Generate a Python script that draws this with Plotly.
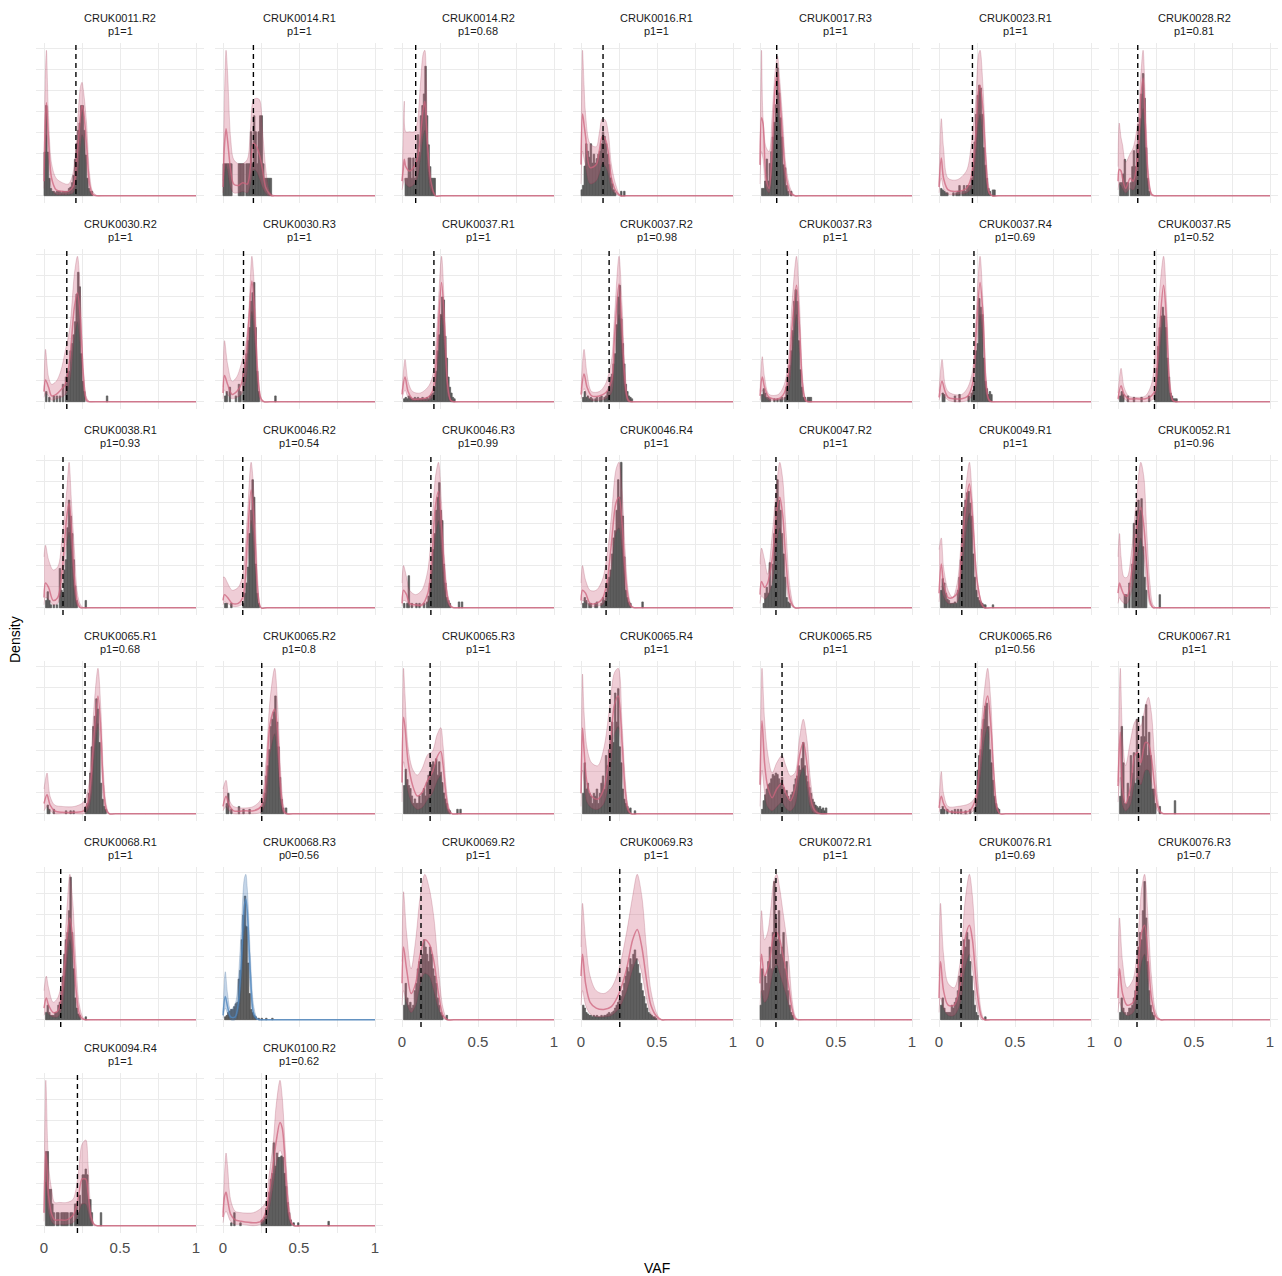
import plotly.graph_objects as go

# ---------------- data ----------------
SAMPLES = ["CRUK0011.R2", "CRUK0014.R1", "CRUK0014.R2", "CRUK0016.R1", "CRUK0017.R3", "CRUK0023.R1", "CRUK0028.R2",
           "CRUK0030.R2", "CRUK0030.R3", "CRUK0037.R1", "CRUK0037.R2", "CRUK0037.R3", "CRUK0037.R4", "CRUK0037.R5",
           "CRUK0038.R1", "CRUK0046.R2", "CRUK0046.R3", "CRUK0046.R4", "CRUK0047.R2", "CRUK0049.R1", "CRUK0052.R1",
           "CRUK0065.R1", "CRUK0065.R2", "CRUK0065.R3", "CRUK0065.R4", "CRUK0065.R5", "CRUK0065.R6", "CRUK0067.R1",
           "CRUK0068.R1", "CRUK0068.R3", "CRUK0069.R2", "CRUK0069.R3", "CRUK0072.R1", "CRUK0076.R1", "CRUK0076.R3",
           "CRUK0094.R4", "CRUK0100.R2"]

LABELS = ["p1=1", "p1=1", "p1=0.68", "p1=1", "p1=1", "p1=1", "p1=0.81",
          "p1=1", "p1=1", "p1=1", "p1=0.98", "p1=1", "p1=0.69", "p1=0.52",
          "p1=0.93", "p1=0.54", "p1=0.99", "p1=1", "p1=1", "p1=1", "p1=0.96",
          "p1=0.68", "p1=0.8", "p1=1", "p1=1", "p1=1", "p1=0.56", "p1=1",
          "p1=1", "p0=0.56", "p1=1", "p1=1", "p1=1", "p1=0.69", "p1=0.7",
          "p1=1", "p1=0.62"]

# dashed cut-off line (None = no line)
CUTOFF = [0.21, 0.2, 0.09, 0.145, 0.11, 0.22, 0.13,
          0.15, 0.135, 0.21, 0.185, 0.18, 0.23, 0.24,
          0.125, 0.13, 0.19, 0.165, 0.105, 0.15, 0.12,
          0.27, 0.255, 0.185, 0.19, 0.145, 0.24, 0.135,
          0.11, None, 0.125, 0.255, 0.105, 0.145, 0.125,
          0.22, 0.285]

# VAF positions where the fitted density is read
KNOTS = [
    [0, .008, .016, .028, .05, .08, .12, .16, .19, .22, .24, .25, .26, .28, .30, .32, .35],
    [0, .01, .02, .03, .05, .07, .1, .13, .16, .18, .2, .22, .24, .26, .28, .3, .32, .35],
    [0, .008, .015, .025, .05, .08, .1, .12, .14, .15, .16, .17, .19, .22],
    [0, .01, .02, .03, .06, .1, .12, .14, .16, .18, .2, .23, .26],
    [0, .01, .02, .04, .06, .08, .1, .115, .13, .15, .17, .2, .23],
    [0, .015, .03, .06, .12, .18, .21, .24, .26, .27, .29, .31, .33, .35],
    [0, .008, .02, .03, .05, .08, .1, .13, .15, .165, .18, .2, .22, .24],
    [0, .01, .03, .05, .08, .11, .14, .17, .2, .22, .24, .26, .28, .3],
    [0, .01, .03, .06, .09, .12, .15, .17, .19, .21, .23, .25, .27],
    [0, .02, .04, .07, .12, .17, .2, .23, .26, .28, .3, .32, .34],
    [0, .02, .04, .07, .12, .16, .2, .22, .25, .27, .29, .31, .33],
    [0, .015, .03, .06, .12, .16, .19, .21, .24, .26, .28, .3, .32],
    [0, .02, .04, .06, .1, .15, .19, .22, .24, .27, .29, .31, .33, .35],
    [0, .02, .04, .07, .12, .18, .22, .24, .27, .3, .32, .34, .36, .38],
    [0, .01, .03, .06, .09, .12, .15, .165, .18, .2, .22, .24, .26],
    [0, .01, .03, .06, .1, .13, .16, .185, .21, .23, .25],
    [0, .01, .03, .05, .09, .13, .17, .2, .22, .24, .26, .28, .3, .32, .34],
    [0, .01, .03, .06, .1, .14, .17, .2, .23, .25, .27, .29, .31, .33, .35],
    [0, .01, .03, .05, .08, .11, .13, .15, .17, .2, .23],
    [0, .015, .03, .06, .09, .12, .15, .18, .2, .22, .25, .28, .3],
    [0, .01, .02, .04, .06, .09, .12, .15, .17, .19, .21, .23, .25],
    [0, .02, .04, .07, .12, .2, .26, .29, .31, .33, .355, .375, .39, .41, .43],
    [0, .02, .04, .07, .15, .2, .25, .28, .31, .34, .36, .38, .40, .42],
    [0, .01, .02, .04, .07, .1, .13, .17, .2, .23, .255, .27, .29, .31, .33],
    [0, .01, .02, .04, .07, .11, .15, .19, .22, .245, .27, .29, .31, .33],
    [0, .013, .03, .05, .08, .11, .145, .17, .2, .23, .26, .285, .31, .33, .35, .37, .4],
    [0, .015, .03, .06, .12, .2, .24, .27, .3, .32, .34, .36, .38, .4],
    [0, .015, .03, .05, .08, .11, .13, .15, .18, .2, .22, .24, .26, .28, .3],
    [0, .015, .03, .06, .09, .12, .15, .17, .19, .21, .23, .25, .27],
    [0, .015, .03, .05, .08, .1, .12, .14, .15, .16, .18, .2, .22, .24],
    [0, .01, .03, .06, .09, .12, .15, .18, .21, .24, .27, .3],
    [0, .01, .03, .06, .1, .15, .2, .25, .3, .34, .37, .4, .43, .46, .5, .53],
    [0, .01, .03, .05, .07, .09, .11, .13, .15, .17, .19, .21, .23, .25],
    [0, .01, .03, .06, .1, .14, .17, .2, .22, .25, .28, .3],
    [0, .01, .03, .06, .1, .13, .155, .175, .2, .22, .25, .28],
    [0, .012, .03, .05, .07, .1, .15, .19, .21, .23, .25, .275, .29, .31, .33, .35],
    [0, .01, .02, .03, .05, .08, .12, .2, .25, .28, .3, .33, .35, .375, .39, .41, .43, .45, .47],
]

# upper edge of the credible band
UPPER = [
    [15, 80, 100, 60, 22, 12, 9, 8, 15, 50, 75, 78, 72, 50, 15, 3, 0],
    [10, 70, 100, 85, 40, 25, 22, 22, 25, 45, 66, 67, 66, 45, 20, 5, 1, 0],
    [10, 40, 65, 44, 44, 44, 50, 75, 98, 100, 80, 35, 7, 0],
    [21, 98, 75, 55, 35, 33, 42, 52, 51, 42, 21, 7, 0],
    [21, 99, 53, 33, 30, 55, 85, 95, 79, 51, 21, 5, 0],
    [7, 53, 33, 12, 11, 17, 33, 63, 97, 100, 74, 28, 5, 0],
    [20, 50, 40, 35, 23, 29, 33, 51, 83, 100, 65, 17, 2, 0],
    [7, 36, 17, 12, 14, 21, 35, 51, 88, 100, 74, 21, 3, 0],
    [10, 42, 26, 14, 17, 26, 40, 63, 100, 72, 21, 3, 0],
    [7, 29, 14, 7, 6, 10, 17, 51, 100, 63, 17, 2, 0],
    [9, 36, 19, 7, 7, 12, 28, 58, 100, 67, 21, 3, 0],
    [7, 31, 17, 5, 5, 12, 33, 67, 100, 67, 17, 2, 0],
    [7, 29, 12, 7, 5, 5, 10, 21, 51, 100, 67, 17, 2, 0],
    [6, 23, 10, 4, 3, 4, 12, 28, 72, 100, 67, 17, 2, 0],
    [35, 43, 33, 26, 28, 49, 81, 100, 74, 40, 10, 2, 0],
    [21, 21, 17, 12, 14, 23, 63, 100, 67, 17, 0],
    [17, 29, 21, 12, 9, 12, 26, 63, 90, 100, 72, 33, 10, 2, 0],
    [17, 29, 19, 12, 12, 19, 35, 63, 95, 100, 81, 40, 12, 2, 0],
    [30, 41, 33, 23, 50, 85, 100, 88, 55, 12, 0],
    [40, 48, 28, 12, 7, 17, 51, 86, 100, 74, 21, 4, 0],
    [35, 51, 35, 21, 21, 40, 74, 100, 90, 51, 17, 2, 0],
    [17, 28, 12, 6, 5, 5, 8, 17, 40, 75, 100, 70, 30, 6, 0],
    [17, 23, 10, 5, 4, 5, 10, 33, 79, 100, 74, 28, 5, 0],
    [21, 98, 80, 45, 30, 26, 30, 40, 42, 53, 58, 46, 19, 4, 0],
    [14, 96, 70, 45, 35, 33, 45, 75, 97, 100, 62, 25, 5, 0],
    [20, 100, 65, 42, 28, 35, 40, 33, 26, 28, 52, 65, 50, 25, 10, 3, 0],
    [7, 29, 14, 5, 5, 7, 12, 51, 86, 100, 79, 33, 7, 0],
    [22, 100, 53, 33, 49, 63, 65, 60, 74, 80, 69, 40, 12, 2, 0],
    [20, 30, 22, 12, 15, 30, 75, 100, 80, 40, 12, 3, 0],
    [5, 33, 18, 7, 11, 28, 62, 97, 100, 90, 44, 11, 2, 0],
    [40, 88, 60, 35, 55, 85, 100, 90, 70, 35, 8, 0],
    [50, 80, 55, 30, 20, 18, 22, 35, 60, 85, 100, 85, 50, 20, 4, 0],
    [40, 75, 55, 60, 75, 95, 100, 90, 75, 60, 40, 15, 3, 0],
    [30, 80, 45, 25, 22, 40, 80, 100, 85, 35, 5, 0],
    [30, 70, 40, 22, 28, 55, 90, 100, 65, 30, 5, 0],
    [9, 100, 42, 25, 16, 16, 16, 18, 25, 40, 56, 59, 42, 9, 1, 0],
    [9, 36, 50, 41, 18, 10, 9, 9, 12, 16, 32, 57, 83, 100, 88, 53, 20, 4, 0],
]

# posterior mean density
MEAN = [
    [10, 50, 64, 42, 12, 4, 3, 3, 6, 30, 55, 62, 58, 35, 8, 1, 0],
    [6, 35, 46, 38, 18, 8, 7, 9, 8, 20, 36, 34, 28, 18, 6, 2, 0, 0],
    [10, 18, 25, 20, 17, 20, 25, 40, 60, 65, 50, 33, 10, 0],
    [21, 55, 48, 40, 19, 21, 30, 40, 38, 29, 12, 3, 0],
    [21, 53, 49, 12, 5, 33, 74, 84, 68, 38, 14, 2, 0],
    [6, 26, 12, 4, 3, 5, 12, 40, 72, 76, 58, 21, 2, 0],
    [10, 18, 17, 12, 5, 12, 10, 28, 67, 81, 49, 12, 1, 0],
    [7, 15, 10, 4, 5, 8, 12, 30, 65, 75, 56, 17, 1, 0],
    [6, 18, 12, 5, 7, 12, 30, 55, 83, 58, 17, 2, 0],
    [5, 17, 7, 2, 2, 3, 7, 35, 82, 53, 12, 1, 0],
    [5, 19, 10, 4, 4, 6, 14, 44, 81, 49, 14, 1, 0],
    [4, 17, 10, 3, 2, 6, 22, 50, 80, 51, 12, 1, 0],
    [3, 14, 7, 3, 2, 2, 4, 12, 40, 82, 58, 12, 1, 0],
    [2, 11, 5, 2, 2, 2, 4, 7, 46, 80, 53, 12, 1, 0],
    [7, 17, 14, 5, 7, 26, 63, 72, 56, 21, 4, 0, 0],
    [5, 9, 7, 3, 3, 7, 46, 81, 49, 10, 0],
    [3, 12, 9, 3, 2, 2, 10, 40, 70, 80, 55, 25, 7, 1, 0],
    [5, 12, 10, 3, 3, 6, 17, 44, 72, 76, 58, 26, 7, 1, 0],
    [9, 18, 14, 17, 33, 67, 76, 63, 33, 5, 0],
    [10, 30, 17, 7, 7, 10, 40, 74, 85, 63, 19, 3, 0],
    [10, 17, 14, 9, 8, 25, 52, 69, 56, 28, 5, 0, 0],
    [7, 13, 6, 2, 1, 1, 2, 8, 25, 55, 81, 55, 20, 3, 0],
    [5, 12, 6, 2, 2, 2, 5, 20, 62, 72, 55, 17, 2, 0],
    [21, 65, 58, 35, 19, 12, 14, 23, 28, 38, 42, 33, 12, 2, 0],
    [14, 59, 44, 21, 12, 10, 17, 44, 75, 81, 49, 17, 3, 0],
    [20, 64, 35, 19, 11, 17, 21, 14, 9, 17, 40, 49, 33, 13, 4, 1, 0],
    [4, 12, 7, 2, 1, 2, 10, 40, 72, 81, 62, 28, 5, 0],
    [19, 56, 17, 7, 17, 40, 42, 35, 49, 48, 38, 20, 6, 1, 0],
    [8, 15, 10, 5, 6, 20, 55, 70, 55, 22, 5, 1, 0],
    [3, 16, 9, 2, 2, 11, 39, 78, 83, 74, 32, 5, 1, 0],
    [25, 50, 35, 18, 25, 45, 55, 52, 40, 18, 3, 0],
    [30, 45, 25, 12, 8, 7, 9, 18, 35, 55, 62, 50, 28, 10, 2, 0],
    [25, 45, 30, 35, 45, 58, 60, 55, 45, 35, 22, 8, 1, 0],
    [15, 40, 20, 10, 10, 25, 55, 65, 55, 20, 2, 0],
    [15, 35, 18, 10, 12, 35, 60, 65, 40, 15, 2, 0],
    [9, 51, 21, 8, 4, 4, 4, 7, 12, 22, 32, 32, 22, 6, 1, 0],
    [6, 20, 23, 18, 8, 4, 3, 2, 3, 9, 20, 42, 58, 71, 67, 41, 13, 2, 0],
]

# lower edge of the credible band
LOWER = [
    [5, 30, 42, 25, 5, 1, 1, 1, 2, 15, 35, 42, 40, 20, 3, 0, 0],
    [2, 15, 22, 18, 6, 2, 2, 3, 2, 8, 18, 17, 12, 6, 2, 0, 0, 0],
    [4, 8, 12, 8, 6, 8, 12, 25, 42, 45, 35, 18, 4, 0],
    [8, 30, 25, 20, 8, 10, 15, 22, 20, 15, 5, 1, 0],
    [8, 30, 25, 5, 2, 18, 50, 60, 48, 22, 6, 0, 0],
    [2, 12, 5, 1, 1, 2, 5, 25, 52, 56, 40, 10, 1, 0],
    [4, 8, 7, 5, 2, 5, 4, 15, 48, 60, 30, 5, 0, 0],
    [3, 6, 4, 1, 2, 3, 5, 15, 45, 55, 38, 8, 0, 0],
    [2, 8, 5, 2, 3, 5, 15, 38, 62, 40, 8, 0, 0],
    [2, 8, 3, 1, 1, 1, 3, 20, 60, 35, 5, 0, 0],
    [2, 9, 4, 1, 1, 2, 6, 28, 60, 32, 6, 0, 0],
    [1, 8, 4, 1, 1, 2, 10, 32, 60, 33, 5, 0, 0],
    [1, 6, 3, 1, 0, 0, 1, 5, 25, 60, 40, 5, 0, 0],
    [1, 5, 2, 0, 0, 0, 1, 3, 30, 60, 35, 5, 0, 0],
    [2, 7, 6, 2, 3, 15, 45, 52, 38, 10, 1, 0, 0],
    [2, 4, 3, 1, 1, 3, 30, 60, 30, 4, 0],
    [1, 5, 4, 1, 1, 1, 4, 25, 50, 60, 38, 12, 3, 0, 0],
    [2, 5, 4, 1, 1, 2, 8, 28, 52, 55, 40, 14, 3, 0, 0],
    [3, 8, 6, 8, 18, 45, 55, 42, 18, 2, 0],
    [4, 15, 8, 3, 3, 4, 25, 55, 65, 45, 10, 1, 0],
    [3, 7, 5, 3, 3, 12, 32, 48, 36, 14, 2, 0, 0],
    [2, 5, 2, 0, 0, 0, 0, 3, 12, 40, 62, 40, 10, 1, 0],
    [2, 5, 2, 0, 0, 0, 1, 8, 42, 55, 38, 8, 0, 0],
    [8, 35, 30, 15, 6, 3, 4, 10, 14, 22, 26, 18, 5, 0, 0],
    [5, 30, 22, 8, 4, 3, 7, 28, 55, 60, 30, 7, 1, 0],
    [5, 30, 15, 5, 2, 5, 8, 4, 2, 6, 25, 32, 18, 5, 1, 0, 0],
    [1, 5, 3, 1, 0, 0, 4, 25, 52, 60, 42, 14, 2, 0],
    [8, 25, 6, 2, 6, 22, 25, 20, 30, 30, 22, 10, 2, 0, 0],
    [3, 6, 4, 2, 2, 10, 40, 55, 40, 12, 2, 0, 0],
    [1, 8, 4, 0, 0, 5, 25, 60, 65, 55, 20, 2, 0, 0],
    [10, 20, 12, 5, 10, 25, 32, 30, 20, 8, 1, 0],
    [10, 20, 10, 4, 2, 2, 3, 8, 20, 35, 42, 32, 15, 4, 0, 0],
    [10, 20, 12, 15, 25, 35, 38, 32, 25, 18, 10, 3, 0, 0],
    [5, 15, 8, 3, 3, 12, 35, 45, 35, 8, 0, 0],
    [5, 12, 6, 3, 5, 20, 40, 45, 25, 6, 0, 0],
    [3, 30, 10, 3, 1, 1, 1, 2, 5, 10, 15, 15, 10, 2, 0, 0],
    [2, 8, 10, 8, 3, 1, 1, 0, 1, 4, 10, 28, 42, 52, 48, 28, 6, 1, 0],
]

# histogram heights, bins of 0.01 starting at VAF 0
HIST = [
    [30, 62, 30, 12, 5, 3, 3, 2, 3, 3, 3, 2, 3, 3, 3, 3, 5, 6, 9, 14, 25, 36, 45, 50, 62, 62, 45, 28, 12, 5, 3, 3],
    [22, 22, 22, 22, 22, 22, 0, 0, 0, 0, 22, 22, 22, 22, 0, 22, 22, 22, 44, 22, 55, 44, 22, 44, 55, 55, 22, 12, 12, 12, 12, 12],
    [0, 0, 12, 12, 26, 26, 12, 26, 12, 26, 42, 30, 55, 62, 70, 89, 55, 35, 20, 12, 12, 12],
    [4, 7, 20, 35, 30, 26, 35, 22, 28, 22, 25, 28, 30, 35, 43, 40, 35, 28, 21, 12, 8, 4, 2, 0, 0, 0, 3, 0, 3],
    [0, 5, 5, 10, 25, 10, 22, 30, 40, 50, 62, 87, 70, 53, 40, 21, 19, 7, 3, 0, 3],
    [0, 5, 4, 3, 2, 2, 0, 0, 0, 2, 0, 2, 3, 7, 0, 3, 7, 3, 7, 7, 7, 12, 21, 37, 56, 69, 76, 74, 56, 33, 21, 12, 5, 3, 0, 4, 4],
    [0, 9, 9, 15, 25, 9, 9, 0, 9, 20, 31, 20, 35, 49, 53, 70, 84, 67, 33, 12, 3],
    [0, 7, 0, 3, 0, 0, 4, 0, 4, 0, 4, 0, 12, 0, 17, 21, 21, 35, 40, 46, 55, 74, 89, 79, 33, 14, 7, 0, 0, 0, 0, 0, 0, 0, 0, 0, 0, 0, 0, 0, 0, 4],
    [0, 4, 7, 0, 10, 0, 0, 0, 4, 0, 12, 7, 0, 21, 27, 33, 42, 51, 69, 75, 82, 51, 21, 7, 0, 0, 0, 0, 0, 0, 0, 0, 0, 0, 4],
    [0, 2, 3, 2, 4, 3, 2, 2, 3, 2, 3, 2, 2, 3, 2, 2, 3, 2, 4, 5, 6, 10, 21, 35, 46, 60, 72, 70, 45, 30, 17, 10, 6, 3, 2],
    [0, 3, 7, 3, 4, 2, 3, 2, 0, 2, 3, 0, 3, 4, 0, 3, 4, 7, 10, 17, 19, 26, 33, 53, 72, 80, 57, 40, 26, 12, 7, 4, 3, 2],
    [0, 5, 9, 6, 3, 3, 2, 0, 0, 2, 0, 2, 0, 2, 3, 0, 3, 10, 18, 25, 35, 49, 69, 77, 69, 42, 22, 10, 3, 3, 0, 3, 3, 3],
    [0, 0, 6, 5, 0, 0, 0, 0, 0, 0, 4, 0, 0, 5, 0, 0, 0, 0, 0, 4, 0, 6, 8, 14, 35, 40, 71, 65, 60, 30, 14, 9, 5, 7, 5],
    [0, 4, 7, 5, 0, 0, 4, 0, 0, 0, 3, 0, 0, 0, 0, 3, 0, 0, 0, 0, 4, 0, 0, 0, 7, 23, 38, 51, 59, 65, 59, 51, 30, 17, 6, 4, 2, 2, 2],
    [0, 5, 11, 5, 2, 0, 2, 0, 2, 0, 27, 12, 8, 26, 33, 55, 74, 63, 51, 33, 15, 5, 0, 0, 0, 0, 0, 5],
    [0, 3, 3, 0, 0, 3, 0, 0, 0, 0, 0, 0, 0, 3, 10, 17, 28, 51, 67, 88, 76, 30, 10, 3],
    [0, 3, 0, 3, 22, 0, 3, 0, 0, 3, 0, 3, 0, 0, 3, 0, 4, 8, 17, 26, 40, 51, 67, 76, 86, 67, 60, 30, 17, 7, 5, 3, 0, 0, 0, 0, 0, 4, 0, 4],
    [0, 3, 7, 5, 0, 3, 3, 0, 0, 3, 4, 0, 0, 3, 7, 5, 8, 17, 21, 26, 37, 48, 53, 67, 88, 76, 100, 63, 35, 12, 7, 4, 3, 0, 0, 0, 0, 0, 0, 0, 4],
    [0, 0, 3, 10, 14, 10, 31, 15, 30, 51, 70, 88, 74, 67, 51, 37, 21, 7, 4, 3],
    [0, 12, 20, 17, 10, 6, 5, 3, 3, 3, 4, 3, 12, 21, 33, 51, 69, 74, 79, 80, 72, 63, 37, 21, 12, 7, 5, 4, 3, 2, 2, 0, 0, 0, 0, 2],
    [0, 0, 0, 0, 9, 9, 0, 17, 0, 30, 58, 44, 67, 74, 67, 75, 42, 21, 12, 0, 0, 0, 0, 0, 0, 0, 0, 9],
    [0, 0, 6, 3, 0, 0, 3, 0, 0, 0, 0, 0, 0, 0, 2, 0, 0, 2, 0, 2, 0, 0, 0, 0, 0, 0, 0, 5, 7, 14, 28, 46, 60, 67, 79, 72, 49, 21, 10, 5, 3],
    [0, 0, 7, 14, 0, 3, 0, 0, 0, 0, 5, 0, 0, 3, 0, 0, 0, 3, 0, 0, 0, 0, 0, 0, 0, 5, 8, 14, 26, 33, 44, 60, 65, 70, 81, 63, 46, 25, 10, 4, 0, 4],
    [0, 19, 30, 23, 19, 17, 12, 7, 10, 7, 7, 12, 7, 14, 17, 12, 21, 26, 28, 33, 35, 33, 37, 26, 35, 28, 21, 14, 10, 7, 3, 2, 0, 0, 0, 0, 3, 0, 3],
    [0, 14, 35, 17, 21, 14, 12, 7, 14, 12, 17, 7, 14, 21, 26, 17, 40, 33, 44, 53, 63, 49, 83, 63, 86, 46, 35, 17, 10, 7, 5, 3, 4, 0, 0, 2],
    [0, 3, 9, 13, 17, 20, 21, 24, 27, 26, 28, 27, 24, 21, 25, 18, 14, 16, 12, 10, 13, 15, 20, 24, 26, 33, 30, 38, 49, 33, 26, 22, 18, 14, 10, 8, 6, 5, 4, 5, 3, 4, 2, 4],
    [0, 3, 5, 3, 0, 3, 0, 0, 2, 0, 3, 0, 3, 0, 3, 0, 0, 2, 0, 0, 3, 0, 0, 4, 10, 30, 40, 44, 58, 65, 74, 76, 60, 44, 35, 23, 12, 7, 4, 3],
    [0, 12, 60, 35, 7, 7, 21, 12, 40, 28, 42, 21, 65, 40, 33, 53, 67, 53, 75, 40, 56, 40, 17, 17, 7, 0, 0, 5, 0, 0, 0, 0, 0, 0, 0, 0, 0, 9],
    [0, 5, 10, 5, 3, 3, 3, 5, 5, 10, 12, 20, 30, 45, 55, 60, 75, 98, 60, 35, 15, 8, 4, 3, 0, 0, 0, 2],
    [0, 2, 3, 5, 6, 7, 7, 9, 11, 12, 28, 34, 55, 72, 85, 64, 39, 18, 7, 5, 3, 2, 0, 1, 0, 1, 0, 0, 1, 0, 0, 0, 1],
    [0, 10, 25, 15, 10, 12, 8, 10, 20, 25, 35, 40, 30, 45, 55, 50, 45, 40, 50, 45, 35, 30, 25, 15, 10, 5, 3, 0, 0, 3],
    [0, 10, 8, 5, 4, 3, 3, 2, 3, 2, 3, 2, 2, 3, 2, 3, 3, 4, 5, 4, 5, 6, 8, 10, 12, 14, 16, 20, 25, 30, 36, 33, 42, 38, 45, 48, 42, 38, 32, 25, 20, 16, 11, 8, 5, 4, 3, 2, 2, 1],
    [10, 35, 20, 30, 25, 40, 50, 35, 60, 95, 70, 55, 75, 45, 50, 60, 35, 40, 20, 10, 5, 3],
    [0, 10, 15, 8, 5, 5, 5, 5, 10, 8, 12, 15, 20, 30, 35, 45, 55, 50, 60, 55, 40, 30, 20, 10, 5, 3, 0, 0, 0, 0, 2],
    [0, 5, 15, 8, 5, 3, 5, 8, 8, 10, 15, 20, 30, 50, 60, 55, 75, 95, 70, 40, 20, 10, 5, 3],
    [0, 51, 51, 25, 25, 15, 9, 0, 9, 9, 0, 9, 9, 9, 9, 9, 0, 9, 9, 0, 15, 15, 9, 21, 15, 35, 35, 39, 35, 18, 18, 9, 0, 0, 0, 0, 0, 9],
    [0, 0, 0, 0, 0, 2, 0, 9, 0, 0, 0, 2, 0, 0, 0, 0, 0, 0, 0, 0, 0, 0, 0, 0, 0, 4, 4, 6, 12, 17,
     23, 32, 36, 57, 41, 50, 47, 47, 48, 47, 36, 27, 16, 9, 4, 0, 2, 0, 0, 2,
     0, 0, 0, 0, 0, 0, 0, 0, 0, 0, 0, 0, 0, 0, 0, 0, 0, 0, 0, 3],
]

X_TICKS = [0, 0.5, 1]
X_TICK_TEXT = ["0", "0.5", "1"]

# ---------------- styling / layout ----------------
W, H = 1282, 1276
NCOL = 7
BIN = 0.01
VAF_END = 1.0
TAIL_PAD = 0.04
FONT = "Liberation Sans, Arial, Helvetica, sans-serif"
GRID = "#ebebeb"
BAR = "#595959"
PAL = {
    "p1": dict(fill="rgba(205,100,128,0.32)", line="rgba(205,100,125,0.75)", edge="rgba(150,45,70,0.30)"),
    "p0": dict(fill="rgba(70,125,185,0.32)", line="rgba(80,135,190,0.80)", edge="rgba(40,85,140,0.30)"),
}

fig = go.Figure()
annotations = []
shapes = []
layout = {}
n = len(SAMPLES)
for i in range(n):
    r, c = divmod(i, NCOL)
    sfx = "" if i == 0 else str(i + 1)
    xa, ya = "x" + sfx, "y" + sfx
    grp = LABELS[i].split("=")[0]
    pal = PAL[grp]
    kx, up, mu, lo, hist = KNOTS[i], UPPER[i], MEAN[i], LOWER[i], HIST[i]
    assert len(kx) == len(up) == len(mu) == len(lo), SAMPLES[i]
    tail_x = [kx[-1] + TAIL_PAD, VAF_END]

    # histogram
    hx = [BIN * (k + 0.5) for k, v in enumerate(hist) if v > 0]
    hy = [v for v in hist if v > 0]
    fig.add_trace(go.Bar(x=hx, y=hy, width=BIN, marker=dict(color=BAR, line=dict(width=0.7, color=BAR)),
                         xaxis=xa, yaxis=ya, hoverinfo="skip"))
    # credible band
    bx = list(kx) + tail_x + tail_x[::-1] + list(kx)[::-1]
    by = list(up) + [0, 0] + [0, 0] + list(lo)[::-1]
    fig.add_trace(go.Scatter(x=bx, y=by, fill="toself", fillcolor=pal["fill"], mode="lines",
                             line=dict(color=pal["edge"], width=0.7, shape="spline", smoothing=0.9),
                             xaxis=xa, yaxis=ya, hoverinfo="skip"))
    # mean density
    fig.add_trace(go.Scatter(x=list(kx) + tail_x, y=list(mu) + [0, 0], mode="lines",
                             line=dict(color=pal["line"], width=1.5, shape="spline", smoothing=0.9),
                             xaxis=xa, yaxis=ya, hoverinfo="skip"))

    ymax = max(max(up), max(hist))
    left, right = 36.4 + 179 * c, 203.6 + 179 * c
    top, bot = 43 + 206 * r, 203 + 206 * r
    show_x = i + NCOL >= n
    layout["xaxis" + sfx] = dict(
        domain=[left / W, right / W], range=[-0.05, 1.05], anchor=ya,
        tickvals=X_TICKS, ticktext=X_TICK_TEXT, showticklabels=show_x, ticks="",
        tickfont=dict(family=FONT, size=15, color="#4d4d4d"), ticklabelstandoff=4,
        showgrid=True, gridcolor=GRID, gridwidth=1.1, zeroline=False, showline=False,
        minor=dict(tickvals=[0.25, 0.75], showgrid=True, gridcolor=GRID, gridwidth=0.6, ticks=""),
        fixedrange=True)
    layout["yaxis" + sfx] = dict(
        domain=[1 - bot / H, 1 - top / H], range=[-0.05 * ymax, 1.05 * ymax], anchor=xa,
        showticklabels=False, ticks="", dtick=0.145 * ymax, tick0=0,
        showgrid=True, gridcolor=GRID, gridwidth=1.0, zeroline=False, showline=False, fixedrange=True)

    cx = (left + right) / 2 / W
    annotations.append(dict(text=SAMPLES[i], x=cx, y=1 - (top - 25) / H, xref="paper", yref="paper",
                            showarrow=False, xanchor="center", yanchor="middle",
                            font=dict(family=FONT, size=11, color="#1a1a1a")))
    annotations.append(dict(text=LABELS[i], x=cx, y=1 - (top - 12) / H, xref="paper", yref="paper",
                            showarrow=False, xanchor="center", yanchor="middle",
                            font=dict(family=FONT, size=11, color="#1a1a1a")))
    if CUTOFF[i] is not None:
        shapes.append(dict(type="line", xref=xa, yref=ya + " domain", x0=CUTOFF[i], x1=CUTOFF[i], y0=0, y1=1,
                           line=dict(color="black", width=1.4, dash="5px,4px")))

annotations.append(dict(text="Density", x=15 / W, y=1 - 640 / H, xref="paper", yref="paper", showarrow=False,
                        textangle=-90, xanchor="center", yanchor="middle",
                        font=dict(family=FONT, size=14, color="#000000")))
annotations.append(dict(text="VAF", x=657 / W, y=1 - 1268 / H, xref="paper", yref="paper", showarrow=False,
                        xanchor="center", yanchor="middle", font=dict(family=FONT, size=14, color="#000000")))

fig.update_layout(width=W, height=H, autosize=False, margin=dict(l=0, r=0, t=0, b=0),
                  paper_bgcolor="white", plot_bgcolor="white", showlegend=False, barmode="overlay",
                  annotations=annotations, shapes=shapes, **layout)
fig.write_html("out.html")
